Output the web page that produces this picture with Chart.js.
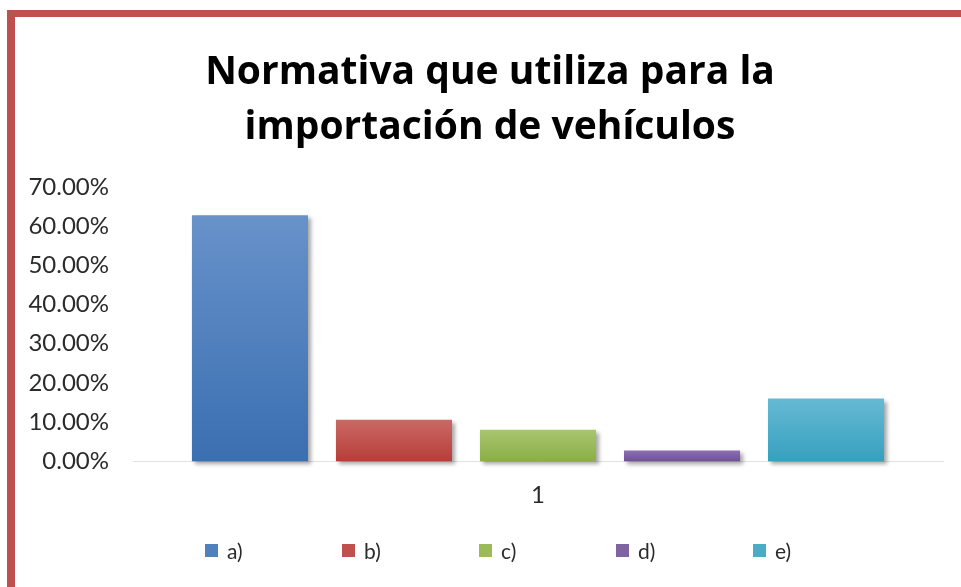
<!DOCTYPE html>
<html lang="es">
<head>
<meta charset="utf-8">
<title>Normativa que utiliza para la importación de vehículos</title>
<script src="https://cdn.jsdelivr.net/npm/chart.js@4"></script>
<style>
  html, body { margin: 0; padding: 0; background: #fff; overflow: hidden; }
  #frame {
    position: absolute; left: 7px; top: 10px; width: 2000px; height: 2000px;
    border-left: 8px solid #C0504D; border-top: 7px solid #C0504D;
  }
  #chart { position: absolute; left: 0; top: 0; }
  #legend {
    position: absolute; left: 205px; top: 538px; height: 24px;
    display: flex; align-items: center;
    font-family: Lato, "Open Sans", sans-serif; font-size: 21px; color: #2b2b2b;
  }
  #legend .item { display: flex; align-items: center; width: 137px; }
  #legend .box { width: 13px; height: 13px; margin-right: 9px; }
</style>
</head>
<body>
<div id="frame"></div>
<canvas id="chart" width="961" height="587"></canvas>
<div id="legend"></div>

<script>
// ── Data ────────────────────────────────────────────────
const categories   = ["1"];
const seriesNames  = ["a)", "b)", "c)", "d)", "e)"];
const seriesValues = [62.8, 10.6, 8.0, 2.7, 16.0];      // percent
const yTickValues  = [0, 10, 20, 30, 40, 50, 60, 70];

// ── Styles (top → bottom gradient per series) ───────────
const topColors    = ["#6892CA", "#CB6965", "#A8C66E", "#8D6FB2", "#66BAD3"];
const bottomColors = ["#3A6FB1", "#B73D39", "#8BAE48", "#6E5197", "#36A0BF"];
const solidColors  = ["#4F81BD", "#C0504D", "#9BBB59", "#8064A2", "#4BACC6"];

function barFill(i) {
  return (ctx) => {
    const chart = ctx.chart;
    if (!chart.chartArea || ctx.raw === undefined) return solidColors[i];
    const y = chart.scales.y;
    const g = chart.ctx.createLinearGradient(0, y.getPixelForValue(ctx.raw), 0, y.getPixelForValue(0));
    g.addColorStop(0, topColors[i]);
    g.addColorStop(1, bottomColors[i]);
    return g;
  };
}

// soft drop shadow under the bars
const barShadow = {
  id: "barShadow",
  beforeDatasetsDraw(chart) {
    const c = chart.ctx;
    c.save();
    c.shadowColor = "rgba(0,0,0,0.35)";
    c.shadowBlur = 4;
    c.shadowOffsetX = 3;
    c.shadowOffsetY = 3;
  },
  afterDatasetsDraw(chart) { chart.ctx.restore(); }
};

const tickFont = { family: "Lato, 'Open Sans', sans-serif", size: 24 };

new Chart(document.getElementById("chart"), {
  type: "bar",
  data: {
    labels: categories,
    datasets: seriesNames.map((name, i) => ({
      label: name,
      data: [seriesValues[i]],
      backgroundColor: barFill(i),
      borderWidth: 0,
      categoryPercentage: 0.889,
      barPercentage: 0.806,
      clip: false
    }))
  },
  options: {
    responsive: false,
    animation: false,
    layout: { padding: { left: 37, right: 18, top: 23, bottom: 65 } },
    scales: {
      x: {
        grid: { display: false },
        border: { display: true, color: "#E2E2E2", width: 1 },
        ticks: { color: "#2b2b2b", font: tickFont, padding: 12 }
      },
      y: {
        min: yTickValues[0],
        max: yTickValues[yTickValues.length - 1],
        afterFit: (s) => {
          s.width = 96;
          s._computeLabelArea = () => undefined;   // let labels overflow the narrow box
        },
        grid: { display: false, drawTicks: false },
        border: { display: false },
        ticks: {
          stepSize: yTickValues[1] - yTickValues[0],
          color: "#2b2b2b",
          font: tickFont,
          padding: 24,
          callback: (v) => v.toFixed(2) + "%"
        }
      }
    },
    plugins: {
      legend: { display: false },
      tooltip: { enabled: false },
      title: {
        display: true,
        text: ["Normativa que utiliza para la", "importación de vehículos"],
        color: "#000",
        font: { family: "'Open Sans', Lato, sans-serif", size: 39, weight: "bold", lineHeight: 1.41 },
        padding: { top: 22, bottom: 32 }
      }
    }
  },
  plugins: [barShadow]
});

// ── Legend ──────────────────────────────────────────────
const legendEl = document.getElementById("legend");
seriesNames.forEach((name, i) => {
  const item = document.createElement("div");
  item.className = "item";
  const box = document.createElement("span");
  box.className = "box";
  box.style.background = solidColors[i];
  const txt = document.createElement("span");
  txt.textContent = name;
  item.appendChild(box);
  item.appendChild(txt);
  legendEl.appendChild(item);
});
</script>
</body>
</html>
